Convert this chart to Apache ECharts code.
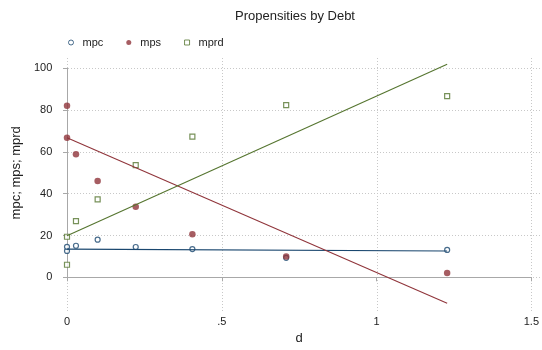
<!DOCTYPE html>
<html>
<head>
<meta charset="utf-8">
<script src="https://cdn.jsdelivr.net/npm/echarts@6/dist/echarts.min.js"></script>
<style>
  html, body { margin: 0; padding: 0; background: #fff; }
  #chart { width: 542px; height: 350px; }
</style>
</head>
<body>
<div id="chart"></div>
<script>
// Debt ratio of each observation
const debt = [0, 0, 0.029, 0.099, 0.222, 0.405, 0.708, 1.228];
// Propensities (percent)
const mpc  = [12.6, 14.6, 15.1, 18.0, 14.5, 13.5, 9.3, 13.1];
const mps  = [82.1, 66.8, 58.9, 46.1, 33.8, 20.6, 9.9, 2.1];
const mprd = [6.0, 19.4, 26.9, 37.3, 53.7, 67.3, 82.4, 86.7];
// Linear fit lines: values at the smallest and largest debt
const fitDebt = [0, 1.228];
const fitMpc  = [13.5, 12.6];
const fitMps  = [66.8, -12.4];
const fitMprd = [19.9, 101.9];
// Axis ticks
const xTicks = [0, 0.5, 1, 1.5];
const xTickLabels = ['0', '.5', '1', '1.5'];
const yTicks = [0, 20, 40, 60, 80, 100];

const NAVY = '#1a476f', MAROON = '#90353b', GREEN = '#55752f';
const FONT = '"Liberation Sans", Arial, Helvetica, sans-serif';

const pairs = (xs, ys) => xs.map((x, i) => [x, ys[i]]);

const chart = echarts.init(document.getElementById('chart'), null, { renderer: 'canvas' });

const gridLine = { show: true, lineStyle: { color: '#c8c8c8', width: 1, type: [1, 2] } };
// ticks of the backdrop axes only position the grid lines, so they are transparent
const hiddenTick = vals => ({ show: true, length: 0, customValues: vals, lineStyle: { opacity: 0 } });

chart.setOption({
  animation: false,
  backgroundColor: '#fff',
  title: {
    text: 'Propensities by Debt',
    left: 290, top: 5, textAlign: 'center',
    textStyle: { fontFamily: FONT, fontSize: 13, fontWeight: 'normal', color: '#222' }
  },
  legend: {
    left: 63, top: 32,
    itemWidth: 5, itemHeight: 5, itemGap: 23,
    itemStyle: { borderWidth: 1 },
    data: ['mpc', 'mps', 'mprd'],
    textStyle: { fontFamily: FONT, fontSize: 11, color: '#222', padding: [0, 0, 0, 4] }
  },
  grid: [
    // full plot region, carries the dotted grid lines
    { left: 65, right: 2, top: 58, bottom: 39 },
    // data region: 0..1.5 by 0..100
    { left: 67, right: 10.3, top: 68.3, bottom: 72.7 }
  ],
  xAxis: [
    {
      gridIndex: 0, type: 'value', min: -0.00646, max: 1.5268,
      axisLine: { show: false }, axisLabel: { show: false },
      axisTick: hiddenTick(xTicks),
      splitLine: gridLine
    },
    {
      gridIndex: 1, type: 'value', min: 0, max: 1.5, interval: 0.5,
      position: 'bottom', offset: 33.7,
      name: 'd', nameLocation: 'middle', nameGap: 21,
      nameTextStyle: { fontFamily: FONT, fontSize: 13, color: '#222' },
      axisLine: { show: true, lineStyle: { color: '#a8a8a8', width: 1 } },
      axisTick: { show: true, length: 4, lineStyle: { color: '#a8a8a8' }, customValues: xTicks },
      axisLabel: {
        show: true, margin: 5, fontFamily: FONT, fontSize: 11, color: '#222',
        customValues: xTicks,
        formatter: v => xTickLabels[xTicks.indexOf(v)]
      },
      splitLine: { show: false }
    }
  ],
  yAxis: [
    {
      gridIndex: 0, type: 'value', min: -16.12, max: 104.93,
      axisLine: { show: false }, axisLabel: { show: false },
      axisTick: hiddenTick(yTicks),
      splitLine: gridLine
    },
    {
      gridIndex: 1, type: 'value', min: 0, max: 100, interval: 20,
      position: 'left', offset: 7.7,
      name: 'mpc; mps; mprd', nameLocation: 'middle', nameGap: 36,
      nameTextStyle: { fontFamily: FONT, fontSize: 13, color: '#222' },
      axisLine: { show: true, lineStyle: { color: '#a8a8a8', width: 1 } },
      axisTick: { show: true, length: 4, lineStyle: { color: '#a8a8a8' } },
      axisLabel: { show: true, margin: 7, fontFamily: FONT, fontSize: 11, color: '#222' },
      splitLine: { show: false }
    }
  ],
  series: [
    {
      name: 'mpc', type: 'scatter', xAxisIndex: 1, yAxisIndex: 1,
      symbol: 'circle', symbolSize: 5,
      itemStyle: { color: '#fff', borderColor: NAVY, borderWidth: 1.2 },
      data: pairs(debt, mpc)
    },
    {
      name: 'mps', type: 'scatter', xAxisIndex: 1, yAxisIndex: 1,
      symbol: 'circle', symbolSize: 6.5,
      itemStyle: { color: MAROON },
      data: pairs(debt, mps)
    },
    {
      name: 'mprd', type: 'scatter', xAxisIndex: 1, yAxisIndex: 1,
      symbol: 'rect', symbolSize: 5,
      itemStyle: { color: '#fff', borderColor: GREEN, borderWidth: 1.2 },
      data: pairs(debt, mprd)
    },
    {
      name: 'fit mpc', type: 'line', xAxisIndex: 1, yAxisIndex: 1,
      showSymbol: false, clip: false, silent: true,
      lineStyle: { color: NAVY, width: 1.1 },
      data: pairs(fitDebt, fitMpc)
    },
    {
      name: 'fit mps', type: 'line', xAxisIndex: 1, yAxisIndex: 1,
      showSymbol: false, clip: false, silent: true,
      lineStyle: { color: MAROON, width: 1.1 },
      data: pairs(fitDebt, fitMps)
    },
    {
      name: 'fit mprd', type: 'line', xAxisIndex: 1, yAxisIndex: 1,
      showSymbol: false, clip: false, silent: true,
      lineStyle: { color: GREEN, width: 1.1 },
      data: pairs(fitDebt, fitMprd)
    }
  ]
});
</script>
</body>
</html>
